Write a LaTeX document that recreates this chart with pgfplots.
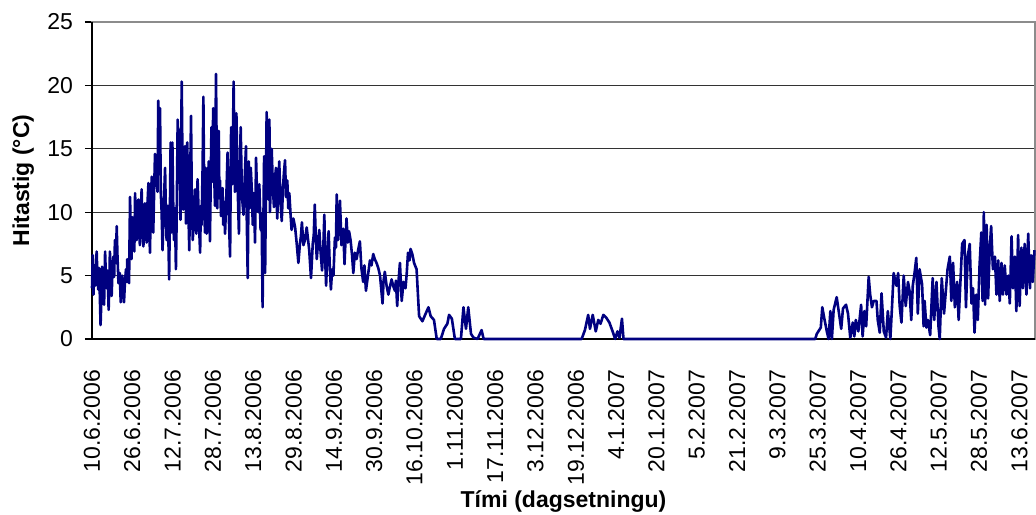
\documentclass[border=0pt]{standalone}
\usepackage{fontspec}
\setmainfont{Liberation Sans}
\usepackage{pgfplots}
\usepackage{pgfplotstable}
\pgfplotsset{compat=1.18}

\definecolor{navyline}{HTML}{000080}

% day 0 = 10.6.2006, temperature in degrees C
\pgfplotstableread{
d t
0 4.0
0.3 6.6
0.6 3.5
0.9 5.8
1.2 4.2
1.5 5.5
1.85 6.9
2.2 4.6
2.5 3.9
2.8 5.6
3.0 4.3
3.4 1.1
3.7 3.0
4.0 5.7
4.4 3.6
4.8 2.7
5.2 6.9
5.5 5.0
5.8 4.0
6.2 5.4
6.6 2.3
6.9 4.5
7.1 6.9
7.5 4.6
7.8 3.4
8.2 5.9
8.5 6.5
8.8 4.9
9.1 7.8
9.5 6.0
9.8 8.9
10.1 6.6
10.5 4.4
11.0 5.2
11.4 2.9
11.7 4.1
12.0 5.0
12.4 3.8
12.7 2.9
13.1 4.6
13.5 5.5
13.8 4.5
14.0 6.3
14.4 5.6
14.7 4.4
15.1 11.2
15.4 8.0
15.7 6.3
16.0 9.6
16.4 9.1
16.8 6.9
17.1 11.5
17.4 9.2
17.7 7.8
18.0 10.2
18.4 11.0
18.7 8.5
19.0 7.4
19.3 9.8
19.7 11.8
20.0 9.0
20.4 7.3
20.7 9.5
21.0 10.7
21.3 8.6
21.7 7.6
22.0 10.6
22.4 12.3
22.7 9.1
23.0 6.8
23.3 10.2
23.7 12.8
24.0 10.0
24.3 8.4
24.7 12.0
25.0 14.6
25.4 12.1
25.7 14.1
26.0 11.6
26.3 18.8
26.6 13.0
27.0 18.2
27.3 11.5
27.6 10.2
28.0 7.0
28.5 10.6
29.0 13.5
29.3 10.1
29.6 7.8
30.1 10.5
30.6 4.7
30.9 9.8
31.2 15.5
31.5 8.4
31.9 15.5
32.2 11.0
32.5 7.8
32.9 10.3
33.3 5.5
33.6 9.6
34.0 17.3
34.3 12.6
34.7 16.5
35.1 9.4
35.6 20.3
35.9 14.0
36.2 10.2
36.5 12.8
36.9 15.2
37.3 9.1
37.8 15.5
38.2 10.6
38.6 7.0
38.9 11.7
39.3 17.6
39.6 11.0
40.0 7.8
40.4 9.6
40.9 11.8
41.4 8.3
41.9 12.6
42.4 9.4
42.9 6.8
43.2 10.5
43.5 9.0
43.9 13.6
44.2 19.1
44.5 12.0
44.8 8.4
45.1 13.5
45.5 8.3
45.9 10.6
46.3 14.0
46.5 10.8
46.8 7.7
47.1 12.3
47.4 16.7
47.7 12.4
48.1 18.2
48.4 13.8
48.8 10.5
49.2 20.9
49.5 14.3
49.7 10.3
50.0 12.9
50.3 16.4
50.5 12.3
50.8 12.5
51.2 9.7
51.5 10.0
51.8 11.9
52.1 9.0
52.5 10.8
52.8 8.3
53.3 11.2
53.8 14.7
54.3 9.6
54.8 6.5
55.2 16.7
55.7 12.2
56.2 20.3
56.7 11.6
57.0 13.1
57.3 17.8
57.8 12.0
58.3 8.3
58.6 12.4
59.0 16.7
59.5 11.3
60.1 9.8
60.6 12.7
61.1 15.2
61.4 9.7
61.8 4.8
62.2 14.0
62.6 10.3
63.0 13.5
63.4 11.8
63.8 9.0
64.2 11.5
64.7 7.6
65.1 14.3
65.5 11.4
66.0 10.0
66.4 12.2
66.9 8.6
67.3 9.9
67.7 2.5
68.0 9.0
68.3 14.4
68.7 5.2
69.3 17.9
69.7 13.2
70.0 11.0
70.4 17.3
70.6 10.0
71.0 12.4
71.3 15.0
71.8 11.9
72.2 10.4
72.6 12.6
73.0 13.5
73.5 9.5
73.9 11.8
74.3 14.0
74.8 10.8
75.3 9.3
75.8 12.0
76.2 13.2
76.6 14.1
77.0 11.2
77.5 12.5
77.9 10.3
78.3 11.5
78.8 9.8
79.2 8.6
79.9 9.5
80.6 8.8
81.2 7.6
81.9 6.0
82.5 7.5
82.9 8.1
83.3 9.2
83.9 7.4
84.5 7.8
85.2 8.8
85.7 7.9
86.2 7.0
86.9 4.8
87.6 7.5
88.0 8.2
88.4 10.6
88.8 8.0
89.2 6.3
89.7 7.6
90.2 8.6
90.7 6.9
91.3 5.4
91.8 7.3
92.2 9.8
92.5 6.5
92.9 4.2
93.4 6.8
93.9 8.5
94.3 6.0
94.8 3.9
95.3 5.5
95.8 5.0
96.4 8.0
96.8 7.2
97.1 11.4
97.6 7.8
98.0 9.1
98.4 10.9
99.0 7.4
99.7 8.7
100.2 5.9
100.6 7.8
101.0 9.5
101.5 7.6
102.0 8.5
102.6 7.8
103.2 6.6
103.7 5.2
104.3 6.8
105.0 6.3
105.6 7.0
106.3 7.7
106.9 5.6
107.6 4.5
108.1 5.8
108.7 3.8
109.5 5.0
110.3 6.2
110.9 5.8
111.6 6.7
112.2 6.3
112.9 6.0
113.6 5.6
114.3 5.0
114.8 3.9
115.3 2.8
115.7 4.6
116.2 5.3
116.9 4.2
117.6 3.5
118.2 4.1
118.9 4.7
119.5 4.2
120.2 3.8
120.6 4.6
121.1 2.6
121.6 4.5
122.2 6.0
122.9 3.0
123.6 4.5
124.4 4.0
124.9 5.2
125.4 6.8
126.0 6.2
126.4 7.1
127.1 6.7
127.8 6.0
128.8 5.5
129.8 1.8
131.1 1.4
132.4 2.0
133.5 2.5
134.4 1.8
135.7 1.5
136.8 0
138.4 0
139.7 0.8
141.0 1.2
141.7 1.9
142.8 1.6
144.0 0
146.4 0
147.4 2.5
148.4 0.8
149.3 2.5
150.4 0.4
151.4 0.1
153.0 0
154.6 0.7
155.4 0
194.3 0
195.6 0.7
196.9 1.9
197.6 0.8
198.7 1.9
199.9 0.6
200.9 1.5
201.8 1.2
202.9 1.9
204.0 1.7
205.3 1.3
206.6 0.6
207.6 0
208.5 0.6
209.3 0.1
210.3 1.6
210.9 0
287.0 0
287.6 0.4
289.2 0.9
289.8 2.5
290.6 1.6
291.7 0.5
292.3 0
293.0 2.2
293.6 0
294.3 2.3
295.5 3.3
296.3 2.2
297.3 0.8
298.0 2.4
299.2 2.7
300.0 2.0
300.9 0.1
301.9 1.3
302.5 0.2
303.1 1.5
304.1 0.6
305.2 2.7
305.8 0.2
306.5 2.2
307.2 1.0
308.2 4.9
308.8 3.5
309.5 2.5
310.2 3.0
311.3 3.0
311.8 1.5
312.6 0.5
313.3 3.6
314.2 0.6
315.1 0.1
315.8 2.2
316.8 0
317.5 2.7
318.1 5.2
319.2 4.2
319.9 5.2
320.5 2.6
321.2 1.3
322.1 5.0
322.9 2.6
323.8 4.5
324.4 3.8
325.1 1.5
325.7 4.2
326.4 5.2
327.1 6.4
327.7 2.0
328.4 5.5
329.4 4.3
330.0 1.0
330.4 3.0
331.1 0.9
331.7 1.5
332.6 0.3
333.6 4.8
334.2 1.5
335.1 4.5
335.9 1.0
336.4 0
337.2 4.8
338.1 2.0
339.5 5.5
340.4 6.5
341.0 3.0
341.7 6.0
342.4 2.5
343.3 4.5
343.9 1.5
344.6 4.5
345.3 7.5
346.2 7.8
346.8 2.5
347.5 6.5
348.3 7.5
349.0 2.8
349.6 4.0
350.2 0.5
350.9 3.5
351.5 1.5
352.2 5.8
352.9 8.4
353.4 3.0
353.9 10.0
354.4 2.7
355.0 9.0
355.6 3.2
356.2 7.0
356.8 8.9
357.5 5.5
358.3 6.5
358.9 3.5
359.6 6.2
360.2 3.0
360.9 6.0
361.5 3.5
362.2 5.8
362.9 3.5
363.6 5.0
364.2 2.8
364.9 8.1
365.5 4.0
366.2 6.5
366.8 2.2
367.5 8.2
368.1 2.6
368.8 7.2
369.4 4.0
370.1 7.5
370.8 3.5
371.5 8.3
372.2 4.0
372.7 6.6
373.3 4.5
374.0 7.0
}\temps

\begin{document}
\fontsize{11.5}{14}\selectfont
\begin{tikzpicture}
\begin{axis}[
    name=ax,
    scale only axis,
    width=471.5pt, height=158.5pt,
    xmin=0, xmax=374.2,
    ymin=0, ymax=25,
    ytick={0,5,...,25},
    xtick={0,16,...,368},
    xticklabels={10.6.2006,26.6.2006,12.7.2006,28.7.2006,13.8.2006,29.8.2006,
        14.9.2006,30.9.2006,16.10.2006,1.11.2006,17.11.2006,3.12.2006,
        19.12.2006,4.1.2007,20.1.2007,5.2.2007,21.2.2007,9.3.2007,
        25.3.2007,10.4.2007,26.4.2007,12.5.2007,28.5.2007,13.6.2007},
    every tick label/.append style={font=\fontsize{11.5}{14}\selectfont},
    xticklabel style={yshift=-8pt, rotate=90, anchor=east},
    yticklabel style={xshift=-2pt},
    x tick style={draw=none},
    ytick pos=left,
    tick align=outside,
    major tick length=3.5pt,
    y tick style={black, line width=0.6pt},
    /pgf/number format/assume math mode=true,
    ymajorgrids,
    grid style={black!80, line width=0.5pt},
    axis line style={draw=black!45, line width=0.8pt},
    ylabel={\bfseries Hitastig (°C)},
    xlabel={\bfseries Tími (dagsetningu)},
    ylabel style={at={(axis description cs:-0.073,0.5)}, anchor=center},
    xlabel style={at={(axis description cs:0.5,-0.514)}, anchor=center},
    clip=false,
]
\draw[black, line width=0.8pt] (rel axis cs:0,1) -- (rel axis cs:0,0) -- (rel axis cs:1,0);
\addplot[navyline, line width=1.3pt, line join=round] table[x=d, y=t] {\temps};
\end{axis}
\pgfresetboundingbox
\useasboundingbox ([xshift=-46pt, yshift=-88pt]ax.south west) rectangle ([xshift=0.5pt, yshift=11pt]ax.north east);
\end{tikzpicture}
\end{document}
